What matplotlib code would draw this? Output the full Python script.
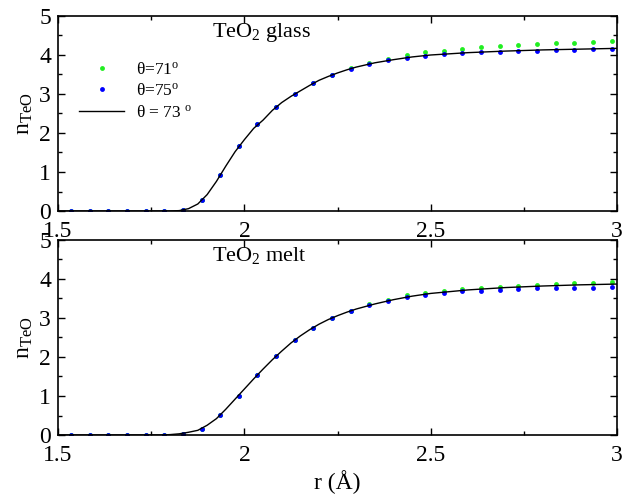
import numpy as np
import matplotlib
matplotlib.use('Agg')
import matplotlib.pyplot as plt
import matplotlib.ticker as mticker

plt.rcParams['font.family'] = ['Liberation Serif', 'DejaVu Serif']
plt.rcParams['mathtext.fontset'] = 'custom'
plt.rcParams['mathtext.rm'] = 'Liberation Serif'
plt.rcParams['mathtext.it'] = 'Liberation Serif:italic'

# --- Data ---
# sampled points (theta = 71 and 75 deg)
r_pts = [1.535, 1.585, 1.635, 1.685, 1.735, 1.785, 1.835, 1.885, 1.935, 1.985,
         2.035, 2.085, 2.135, 2.185, 2.235, 2.285, 2.335, 2.385, 2.435, 2.485,
         2.535, 2.585, 2.635, 2.685, 2.735, 2.785, 2.835, 2.885, 2.935, 2.985]

glass_75 = [0, 0, 0, 0, 0, 0, 0.03, 0.28, 0.93, 1.66,
            2.23, 2.66, 3.00, 3.28, 3.49, 3.65, 3.77, 3.86, 3.93, 3.98,
            4.03, 4.05, 4.07, 4.08, 4.10, 4.11, 4.13, 4.14, 4.15, 4.16]
glass_71 = [0, 0, 0, 0, 0, 0, 0.03, 0.28, 0.93, 1.66,
            2.23, 2.66, 3.00, 3.28, 3.49, 3.66, 3.80, 3.90, 4.00, 4.07,
            4.11, 4.15, 4.20, 4.23, 4.26, 4.27, 4.30, 4.32, 4.34, 4.36]

melt_75 = [0, 0, 0, 0, 0, 0, 0.02, 0.15, 0.51, 1.01,
           1.54, 2.03, 2.44, 2.75, 3.00, 3.19, 3.33, 3.44, 3.53, 3.59,
           3.65, 3.68, 3.70, 3.73, 3.74, 3.76, 3.76, 3.78, 3.78, 3.79]
melt_71 = [0, 0, 0, 0, 0, 0, 0.02, 0.15, 0.51, 1.01,
           1.54, 2.03, 2.44, 2.75, 3.00, 3.19, 3.36, 3.47, 3.58, 3.64,
           3.70, 3.74, 3.77, 3.80, 3.83, 3.85, 3.87, 3.89, 3.90, 3.93]

# curve (theta = 73 deg)
r_line = [1.5, 1.775, 1.8, 1.825, 1.85, 1.875, 1.9, 1.925, 1.95, 1.975,
          2.0, 2.025, 2.05, 2.075, 2.1, 2.125, 2.15, 2.175, 2.2, 2.225,
          2.25, 2.275, 2.3, 2.35, 2.4, 2.45, 2.5, 2.6, 2.7, 2.8, 2.9, 3.0]
glass_73 = [0, 0, 0, 0.01, 0.06, 0.18, 0.42, 0.76, 1.15, 1.52,
            1.83, 2.12, 2.33, 2.58, 2.78, 2.94, 3.08, 3.22, 3.35, 3.45,
            3.54, 3.62, 3.69, 3.80, 3.88, 3.95, 4.00, 4.06, 4.10, 4.13, 4.15, 4.17]
melt_73 = [0, 0, 0.01, 0.03, 0.07, 0.12, 0.25, 0.42, 0.66, 0.92,
           1.18, 1.44, 1.69, 1.93, 2.15, 2.36, 2.54, 2.70, 2.84, 2.96,
           3.06, 3.15, 3.23, 3.36, 3.47, 3.56, 3.63, 3.72, 3.78, 3.82, 3.85, 3.87]

labels = ['θ=71$^{\\mathrm{o}}$', 'θ=75$^{\\mathrm{o}}$', 'θ = 73 $^{\\mathrm{o}}$']
green = '#22ee22'
blue = '#0000ff'

fig = plt.figure(figsize=(6.24, 4.98), dpi=100)
ax_top = fig.add_axes([0.093, 0.5763, 0.896, 0.3916])
ax_bot = fig.add_axes([0.093, 0.1265, 0.896, 0.3916])

panels = [(ax_top, glass_71, glass_75, glass_73, r'TeO$_2$ glass'),
          (ax_bot, melt_71, melt_75, melt_73, r'TeO$_2$ melt')]

for ax, y71, y75, y73, name in panels:
    ax.plot(r_pts, y71, 'o', ms=3.5, color=green, mec='none', label=labels[0])
    ax.plot(r_pts, y75, 'o', ms=3.5, color=blue, mec='none', label=labels[1])
    ax.plot(r_line, y73, '-', lw=1, color='black', label=labels[2])
    ax.set_xlim(1.5, 3.0)
    ax.set_ylim(0, 5)
    ax.xaxis.set_major_locator(mticker.FixedLocator([1.5, 2, 2.5, 3]))
    ax.xaxis.set_major_formatter(mticker.FixedFormatter(['1.5', '2', '2.5', '3']))
    ax.xaxis.set_minor_locator(mticker.MultipleLocator(0.25))
    ax.yaxis.set_major_locator(mticker.MultipleLocator(1))
    ax.yaxis.set_minor_locator(mticker.MultipleLocator(0.5))
    ax.tick_params(which='both', direction='in', top=True, right=True, labelsize=17)
    ax.tick_params(which='major', length=5, width=1)
    ax.tick_params(which='minor', length=3, width=1)
    ax.tick_params(axis='x', which='major', pad=7)
    ax.tick_params(axis='y', which='major', pad=5)
    for s in ax.spines.values():
        s.set_linewidth(1.2)
    ax.set_ylabel(r'n$_{\mathrm{TeO}}$', fontsize=17, labelpad=3)
    ax.text(0.275, 0.975, name, transform=ax.transAxes, fontsize=16, va='top', ha='left')

ax_top.legend(loc='upper left', bbox_to_anchor=(0.022, 0.81), frameon=False,
              fontsize=12.5, handlelength=2.6, handletextpad=0.7, labelspacing=0.3,
              borderpad=0)
ax_bot.set_xlabel('r (Å)', fontsize=17, labelpad=3)

fig.savefig('out.png', dpi=100)
